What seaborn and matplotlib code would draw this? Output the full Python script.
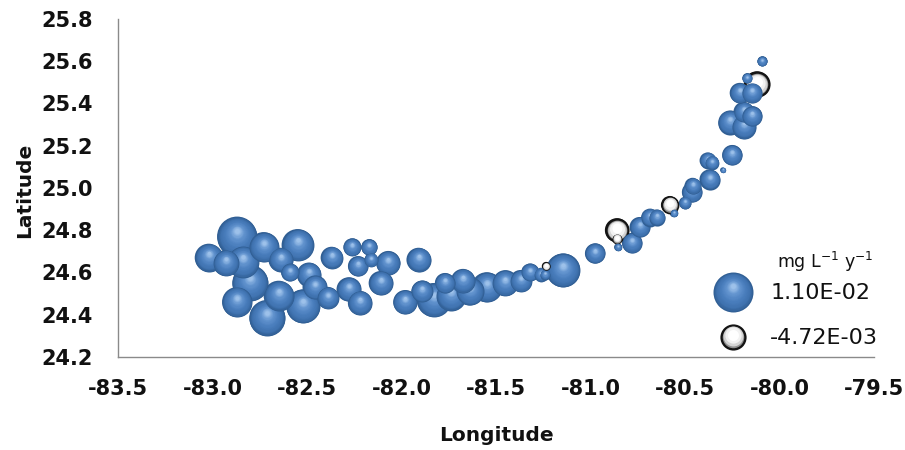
import numpy as np
import pandas as pd
import matplotlib
matplotlib.use("Agg")
import matplotlib.pyplot as plt
from matplotlib.colors import to_rgb
from matplotlib.transforms import ScaledTranslation
import seaborn as sns

# station positions and trend (mg L-1 y-1)
lon = [-83.02, -82.87, -82.93, -82.84, -82.73, -82.80, -82.64, -82.55, -82.59, -82.49,
       -82.65, -82.87, -82.71, -82.52, -82.46, -82.37, -82.39, -82.28, -82.26, -82.17,
       -82.16, -82.23, -82.07, -81.91, -82.22, -82.11, -81.98, -81.89, -81.83, -81.77,
       -81.74, -81.675, -81.64, -81.55, -81.45, -81.37, -81.32, -81.26, -81.235, -81.24,
       -81.145, -80.976, -80.86, -80.86, -80.855, -80.78, -80.74, -80.685, -80.65, -80.58,
       -80.56, -80.50, -80.463, -80.46, -80.37, -80.30, -80.38, -80.357, -80.25, -80.26,
       -80.19, -80.19, -80.145, -80.21, -80.145, -80.12, -80.17, -80.09]
lat = [24.67, 24.77, 24.645, 24.65, 24.72, 24.55, 24.66, 24.73, 24.60, 24.59,
       24.49, 24.46, 24.385, 24.44, 24.53, 24.67, 24.48, 24.52, 24.72, 24.72,
       24.66, 24.63, 24.645, 24.66, 24.456, 24.55, 24.46, 24.51, 24.47, 24.55,
       24.49, 24.56, 24.51, 24.53, 24.55, 24.56, 24.60, 24.59, 24.63, 24.59,
       24.61, 24.69, 24.80, 24.76, 24.72, 24.74, 24.815, 24.86, 24.86, 24.92,
       24.88, 24.93, 24.98, 25.01, 25.04, 25.085, 25.13, 25.12, 25.156, 25.31,
       25.29, 25.36, 25.34, 25.45, 25.45, 25.49, 25.52, 25.60]
rate = [0.0054, 0.0110, 0.0046, 0.0070, 0.0062, 0.0089, 0.0040, 0.0070, 0.0022, 0.0040,
        0.0062, 0.0062, 0.0089, 0.0079, 0.0040, 0.0033, 0.0033, 0.0040, 0.0022, 0.0018,
        0.0013, 0.0028, 0.0040, 0.0040, 0.0040, 0.0040, 0.0040, 0.0033, 0.0079, 0.0028,
        0.0062, 0.0040, 0.0054, 0.0062, 0.0046, 0.0033, 0.0022, 0.0013, -0.0005, 0.0007,
        0.0079, 0.0028, -0.0040, -0.0007, 0.0004, 0.0028, 0.0028, 0.0022, 0.0018, -0.0022,
        0.0004, 0.0010, 0.0028, 0.0018, 0.0028, 0.0002, 0.0018, 0.0013, 0.0028, 0.0040,
        0.0040, 0.0028, 0.0028, 0.0028, 0.0028, -0.00472, 0.0007, 0.0007]

x_ticks = [-83.5, -83.0, -82.5, -82.0, -81.5, -81.0, -80.5, -80.0, -79.5]
y_ticks = [24.2, 24.4, 24.6, 24.8, 25.0, 25.2, 25.4, 25.6, 25.8]
legend_values = [0.0110, -0.00472]
legend_labels = ["1.10E-02", "-4.72E-03"]

MAX_RATE = 0.011
MAX_SIZE = 829  # points^2 for the largest bubble


def make_layers(anchor_frac, anchor_cols, n, max_lift):
    # smooth radial shading, from the rim inwards
    fracs = np.linspace(anchor_frac[0], anchor_frac[-1], n)
    rgb = np.array([to_rgb(c) for c in anchor_cols])
    layers = []
    for f in fracs:
        col = [np.interp(-f, [-a for a in anchor_frac], rgb[:, k]) for k in range(3)]
        lift = max_lift * (1 - f) / (1 - anchor_frac[-1])
        layers.append((f, col, lift))
    return layers


BLUE_LAYERS = make_layers([1.0, 0.85, 0.6, 0.35, 0.12],
                          ["#305E93", "#3F72AF", "#4B7FBE", "#6394CF", "#9DC1EA"], 24, 0.30)
NEG_LAYERS = [(1.00, "#141414", 0.00), (0.82, "#8f8f8f", 0.03), (0.76, "#d4d4d4", 0.06),
              (0.62, "#f2f2f2", 0.12), (0.42, "#ffffff", 0.18)]

sns.set_theme(style="white")
plt.rcParams["font.family"] = ["DejaVu Sans"]
plt.rcParams["mathtext.default"] = "regular"
plt.rcParams["axes.unicode_minus"] = False

df = pd.DataFrame({"lon": lon, "lat": lat, "rate": rate})
df["mag"] = df["rate"].abs()
df["neg"] = df["rate"] < 0
df = df.sort_values("mag", ascending=False, kind="stable").reset_index(drop=True)

fig, ax = plt.subplots(figsize=(9.05, 4.5), dpi=100)
ax.set_position([0.1304, 0.2067, 0.8353, 0.7511])

# base layer from seaborn (area proportional to |rate|)
sns.scatterplot(data=df, x="lon", y="lat", size="mag", sizes=(0, MAX_SIZE),
                size_norm=(0, MAX_RATE), hue="neg",
                palette={False: "#305E93", True: "#141414"},
                linewidth=0, legend=False, ax=ax)


def draw_bubble(x, y, value, transform):
    s = MAX_SIZE * abs(value) / MAX_RATE
    r_pt = np.sqrt(s) / 2
    layers = NEG_LAYERS if value < 0 else BLUE_LAYERS
    for frac, col, lift in layers:
        off = ScaledTranslation(0, lift * r_pt / 72, fig.dpi_scale_trans)
        ax.scatter([x], [y], s=s * frac ** 2, color=[col], linewidths=0,
                   transform=transform + off, clip_on=False, zorder=3)


for _, row in df.iterrows():
    draw_bubble(row["lon"], row["lat"], row["rate"], ax.transData)

ax.set_xlim(-83.5, -79.5)
ax.set_ylim(24.2, 25.8)
ax.set_xticks(x_ticks)
ax.set_xticklabels([f"{v:.1f}" for v in x_ticks])
ax.set_yticks(y_ticks)
ax.set_yticklabels([f"{v:.1f}" for v in y_ticks])
ax.tick_params(axis="both", which="major", direction="out", length=7, width=1,
               color="#8a8a8a", labelsize=15, labelcolor="#111111")
ax.tick_params(axis="x", pad=9)
ax.tick_params(axis="y", pad=11)
for lbl in ax.get_xticklabels() + ax.get_yticklabels():
    lbl.set_fontweight("bold")

for side in ["top", "right"]:
    ax.spines[side].set_visible(False)
for side in ["left", "bottom"]:
    ax.spines[side].set_color("#8a8a8a")
    ax.spines[side].set_linewidth(1)

ax.set_xlabel("")
ax.set_ylabel("")
fig.text(0.548, 0.033, "Longitude", ha="center", va="center",
         fontsize=14.5, fontweight="bold", color="#111111")
fig.text(0.027, 0.578, "Latitude", ha="center", va="center", rotation=90,
         fontsize=14.5, fontweight="bold", color="#111111")

# legend
fig.text(0.912, 0.418, "mg L$^{-1}$ y$^{-1}$", ha="center", va="center",
         fontsize=12.5, color="#111111")
legend_y = [0.351, 0.251]
for val, lab, yy in zip(legend_values, legend_labels, legend_y):
    draw_bubble(0.81, yy, val, fig.transFigure)
    fig.text(0.851, yy - 0.002, lab, ha="left", va="center",
             fontsize=16, color="#111111")

fig.savefig("out.png", dpi=100)
